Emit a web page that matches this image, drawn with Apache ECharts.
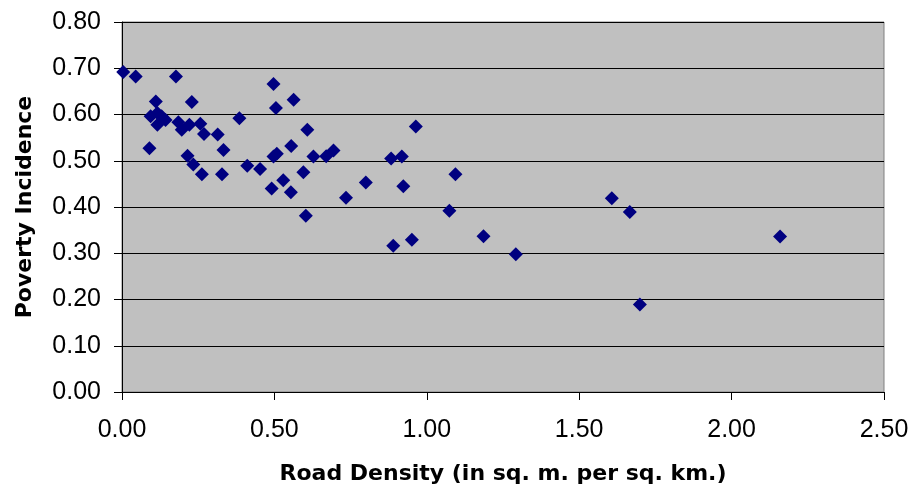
<!DOCTYPE html>
<html>
<head>
<meta charset="utf-8">
<script src="https://cdn.jsdelivr.net/npm/echarts@6/dist/echarts.min.js"></script>
<style>
  html, body { margin: 0; padding: 0; background: #ffffff; }
  #chart { width: 919px; height: 493px; }
</style>
</head>
<body>
<div id="chart"></div>
<script>
// Road density per province (sq. m. per sq. km.)
const roadDensity = [
  0.004, 0.045, 0.177, 0.497, 0.111, 0.229, 0.563, 0.505,
  0.094, 0.116, 0.130, 0.116, 0.143, 0.385, 0.185, 0.221,
  0.196, 0.257, 0.269, 0.314, 0.608, 0.090, 0.333, 0.555,
  0.215, 0.508, 0.497, 0.234, 0.628, 0.670, 0.694, 0.262,
  0.328, 0.411, 0.453, 0.595, 0.491, 0.529, 0.554, 0.735,
  0.603, 0.964, 0.883, 0.918, 0.800, 0.923, 1.094, 1.074,
  0.890, 0.951, 1.186, 1.292, 1.607, 1.666, 2.159, 1.699
];
// Poverty incidence for the same provinces
const povertyIncidence = [
  0.692, 0.682, 0.682, 0.666, 0.628, 0.627, 0.632, 0.614,
  0.596, 0.603, 0.596, 0.578, 0.588, 0.592, 0.583, 0.578,
  0.567, 0.580, 0.558, 0.557, 0.567, 0.527, 0.523, 0.532,
  0.511, 0.515, 0.509, 0.492, 0.509, 0.510, 0.522, 0.471,
  0.471, 0.489, 0.482, 0.475, 0.440, 0.458, 0.432, 0.420,
  0.381, 0.574, 0.505, 0.509, 0.453, 0.445, 0.471, 0.392,
  0.316, 0.329, 0.337, 0.298, 0.419, 0.389, 0.336, 0.189
];

const xTitle = 'Road Density (in sq. m. per sq. km.)';
const yTitle = 'Poverty Incidence';

const points = roadDensity.map((x, i) => [x, povertyIncidence[i]]);

const titleFont = { fontFamily: 'DejaVu Sans', fontWeight: 'bold', fontSize: 22, color: '#000' };
const tickFont = { fontFamily: 'Liberation Sans', fontSize: 25, color: '#000' };

const chart = echarts.init(document.getElementById('chart'));
chart.setOption({
  animation: false,
  backgroundColor: '#ffffff',
  grid: {
    left: 122, right: 35, top: 22, bottom: 101,
    show: true,
    backgroundColor: '#C0C0C0',
    borderColor: '#808080',
    borderWidth: 1
  },
  xAxis: {
    type: 'value',
    min: 0, max: 2.5, interval: 0.5,
    name: xTitle,
    nameLocation: 'middle',
    nameGap: 71,
    nameTextStyle: titleFont,
    axisLine: { show: true, lineStyle: { color: '#000', width: 1 } },
    axisTick: { show: true, inside: false, length: 8, lineStyle: { color: '#000' } },
    axisLabel: Object.assign({ margin: 26, formatter: v => v.toFixed(2) }, tickFont),
    splitLine: { show: false }
  },
  yAxis: {
    type: 'value',
    min: 0, max: 0.8, interval: 0.1,
    name: yTitle,
    nameLocation: 'middle',
    nameGap: 86,
    nameRotate: 90,
    nameTextStyle: titleFont,
    axisLine: { show: true, lineStyle: { color: '#000', width: 1 } },
    axisTick: { show: true, inside: false, length: 8, lineStyle: { color: '#000' } },
    axisLabel: Object.assign({ margin: 21, formatter: v => v.toFixed(2) }, tickFont),
    splitLine: { show: true, lineStyle: { color: '#000', width: 1 } }
  },
  series: [{
    type: 'scatter',
    data: points,
    symbol: 'diamond',
    symbolSize: [14, 14],
    itemStyle: { color: '#000080', opacity: 1 }
  }]
});
</script>
</body>
</html>
